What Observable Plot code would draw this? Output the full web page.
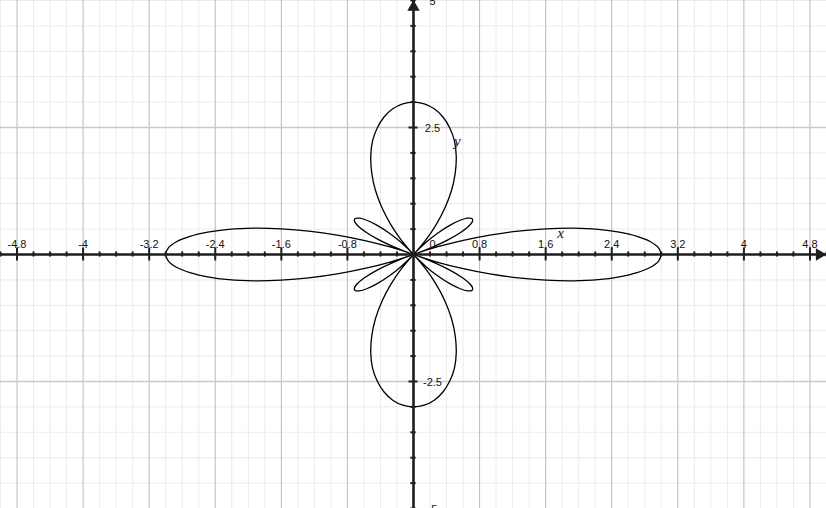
<!DOCTYPE html>
<html><head><meta charset="utf-8">
<script src="https://cdn.jsdelivr.net/npm/d3@7"></script>
<script src="https://cdn.jsdelivr.net/npm/@observablehq/plot@0.6"></script>
<style>html,body{margin:0;padding:0;background:#fff;overflow:hidden}#chart svg{display:block;overflow:hidden}</style>
</head><body><div id="chart"></div>
<script>
// Polar curve: radius read at every 2.5° of angle (0° .. 360°)
const angleStepDeg = 2.5;
const radius = [
  3, 2.97, 2.88, 2.73, 2.53, 2.29, 2, 1.68, 1.35, 1, 0.65, 0.32, 0, -0.29, -0.53, -0.73, -0.88, -0.97,
  -1, -0.97, -0.88, -0.73, -0.53, -0.29, 0, 0.32, 0.65, 1, 1.35, 1.68, 2, 2.29, 2.53, 2.73, 2.88, 2.97,
  3, 2.97, 2.88, 2.73, 2.53, 2.29, 2, 1.68, 1.35, 1, 0.65, 0.32, 0, -0.29, -0.53, -0.73, -0.88, -0.97,
  -1, -0.97, -0.88, -0.73, -0.53, -0.29, 0, 0.32, 0.65, 1, 1.35, 1.68, 2, 2.29, 2.53, 2.73, 2.88, 2.97,
  3, 2.97, 2.88, 2.73, 2.53, 2.29, 2, 1.68, 1.35, 1, 0.65, 0.32, 0, -0.29, -0.53, -0.73, -0.88, -0.97,
  -1, -0.97, -0.88, -0.73, -0.53, -0.29, 0, 0.32, 0.65, 1, 1.35, 1.68, 2, 2.29, 2.53, 2.73, 2.88, 2.97,
  3, 2.97, 2.88, 2.73, 2.53, 2.29, 2, 1.68, 1.35, 1, 0.65, 0.32, 0, -0.29, -0.53, -0.73, -0.88, -0.97,
  -1, -0.97, -0.88, -0.73, -0.53, -0.29, 0, 0.32, 0.65, 1, 1.35, 1.68, 2, 2.29, 2.53, 2.73, 2.88, 2.97,
  3
];

// Axis ticks and labels
const xTickValues = [-4.8, -4, -3.2, -2.4, -1.6, -0.8, 0, 0.8, 1.6, 2.4, 3.2, 4, 4.8];
const xTickLabels = ["-4.8", "-4", "-3.2", "-2.4", "-1.6", "-0.8", "0", "0.8", "1.6", "2.4", "3.2", "4", "4.8"];
const yTickValues = [5, 2.5, -2.5, -5];
const yTickLabels = ["5", "2.5", "-2.5", "-5"];
const xMinorStep = 0.2;
const yMinorStep = 0.5;

// Curve name labels
const curveNames = ["x", "y"];
const curveNameX = [1.78, 0.53];
const curveNameY = [0.42, 2.23];

const curve = radius.map((r, i) => {
  const t = i * angleStepDeg * Math.PI / 180;
  return {x: r * Math.cos(t), y: r * Math.sin(t)};
});

const near = (a, b) => Math.abs(a - b) < 1e-6;
const xAll = d3.range(-25, 26).map(i => +(i * xMinorStep).toFixed(2));
const yAll = d3.range(-10, 11).map(i => +(i * yMinorStep).toFixed(2));
const xMajor = xTickValues.filter(v => v !== 0);
const yMajor = yTickValues.filter(v => Math.abs(v) < 5);
const xMinor = xAll.filter(v => !xTickValues.some(m => near(m, v)));
const yMinor = yAll.filter(v => v !== 0 && !yMajor.some(m => near(m, v)));

const xLabelData = xTickValues.map((v, i) => ({v, label: xTickLabels[i]}));
const yLabelData = yTickValues.map((v, i) => ({v, label: yTickLabels[i]}));
const nameData = curveNames.map((n, i) => ({n, x: curveNameX[i], y: curveNameY[i]}));

const axisColor = "#1e1e1e";
const font = "'Liberation Sans', Arial, Helvetica, sans-serif";

const chart = Plot.plot({
  width: 826,
  height: 508,
  margin: 0,
  x: {domain: [-5, 5], axis: null},
  y: {domain: [-5, 5], axis: null},
  style: {background: "#fff"},
  marks: [
    Plot.ruleX(xMinor, {stroke: "#ebebeb", strokeWidth: 1}),
    Plot.ruleY(yMinor, {stroke: "#ebebeb", strokeWidth: 1}),
    Plot.ruleX(xMajor, {stroke: "#bababa", strokeWidth: 1}),
    Plot.ruleY(yMajor, {stroke: "#cacaca", strokeWidth: 1.5}),
    Plot.line(curve, {x: "x", y: "y", stroke: "#000", strokeWidth: 1.3, curve: "catmull-rom"}),
    Plot.ruleY([0], {stroke: axisColor, strokeWidth: 2.6}),
    Plot.ruleX([0], {stroke: axisColor, strokeWidth: 2.6}),
    Plot.ruleX(xMinor.filter(v => v !== 0), {x: d => d, y1: -0.05, y2: 0.05, stroke: axisColor, strokeWidth: 2}),
    Plot.ruleX(xMajor, {x: d => d, y1: -0.128, y2: 0.128, stroke: axisColor, strokeWidth: 2}),
    Plot.ruleY(yMinor, {y: d => d, x1: -0.032, x2: 0.032, stroke: axisColor, strokeWidth: 2}),
    Plot.ruleY(yMajor, {y: d => d, x1: -0.055, x2: 0.055, stroke: axisColor, strokeWidth: 2}),
    Plot.dot([0], {x: () => 4.915, y: () => 0, symbol: "triangle", rotate: 90, r: 4.6, fill: axisColor, stroke: null}),
    Plot.dot([0], {x: () => 0, y: () => 4.87, symbol: "triangle", rotate: 0, r: 4.6, fill: axisColor, stroke: null}),
    Plot.text(xLabelData.filter(d => d.v !== 0), {x: "v", y: () => 0, text: "label", dy: -10, fontSize: 11, fontFamily: font, fill: "#111"}),
    Plot.text(xLabelData.filter(d => d.v === 0), {x: "v", y: () => 0, text: "label", dx: 19, dy: -10, fontSize: 11, fontFamily: font, fill: "#111"}),
    Plot.text(yLabelData, {x: () => 0, y: "v", text: "label", dx: 19, dy: 1, fontSize: 11, fontFamily: font, fill: "#111"}),
    Plot.text(nameData, {x: "x", y: "y", text: "n", fontSize: 15, fontStyle: "italic", fontFamily: "'Liberation Serif', 'Times New Roman', serif", fill: "#111"})
  ]
});
document.getElementById("chart").append(chart);
</script>
</body></html>
